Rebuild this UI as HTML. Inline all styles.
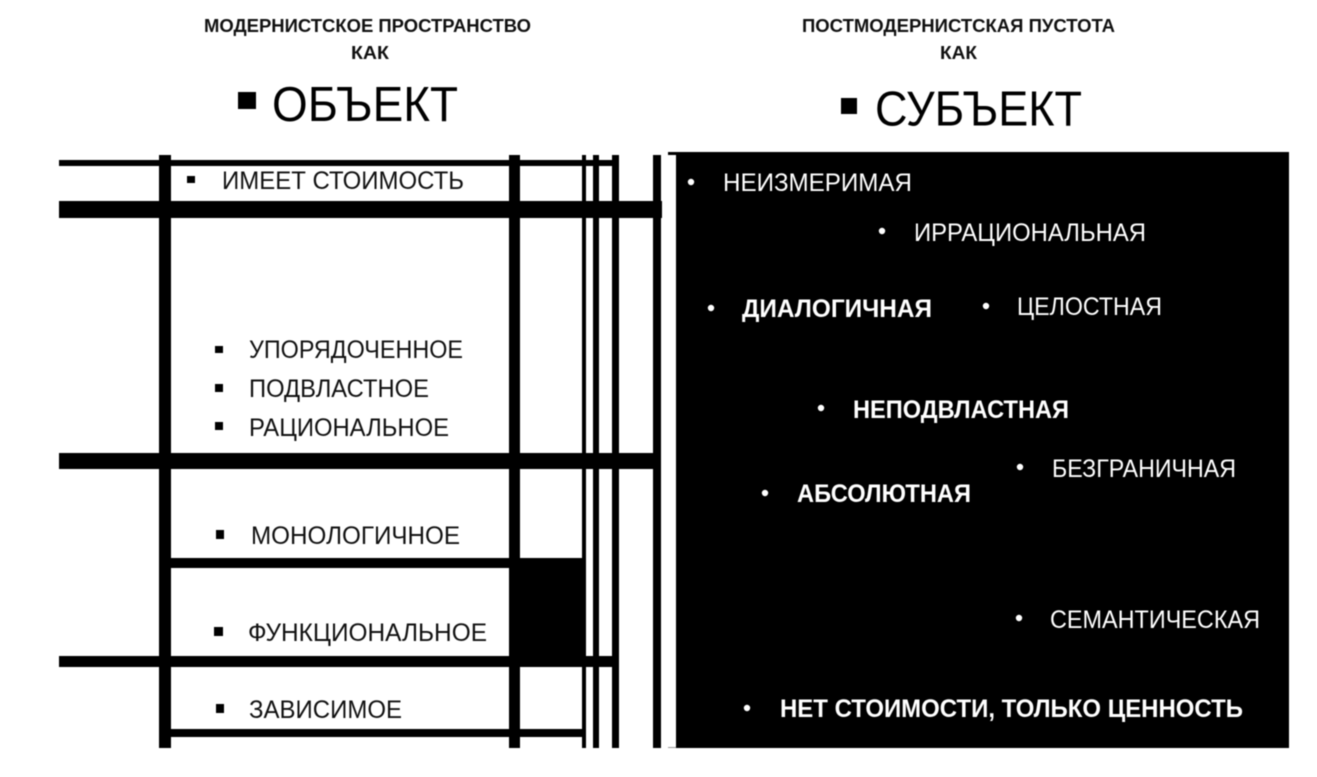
<!DOCTYPE html>
<html lang="ru">
<head>
<meta charset="utf-8">
<title>Объект и субъект</title>
<style>
html,body{margin:0;padding:0;background:#fff;width:1317px;height:777px;overflow:hidden}
svg{display:block;filter:blur(.45px)}
text{font-family:"Liberation Sans","DejaVu Sans",sans-serif;font-size:25px;fill:#111}
.b{font-weight:bold}
.h{font-weight:bold;font-size:18px}
.big{font-size:49px;fill:#000}
.w text{fill:#fff}
</style>
</head>
<body>
<svg width="1317" height="777" viewBox="0 0 1317 777" xmlns="http://www.w3.org/2000/svg">
<rect width="1317" height="777" fill="#fff"/>

<!-- headings -->
<text class="h" x="204" y="32" textLength="327" lengthAdjust="spacingAndGlyphs">МОДЕРНИСТСКОЕ ПРОСТРАНСТВО</text>
<text class="h" x="351" y="59" textLength="38" lengthAdjust="spacingAndGlyphs">КАК</text>
<rect x="238" y="92" width="18" height="17" fill="#000"/>
<text class="big" x="272" y="121" textLength="186" lengthAdjust="spacingAndGlyphs">ОБЪЕКТ</text>

<text class="h" x="802" y="32" textLength="313" lengthAdjust="spacingAndGlyphs">ПОСТМОДЕРНИСТСКАЯ ПУСТОТА</text>
<text class="h" x="940" y="59" textLength="37" lengthAdjust="spacingAndGlyphs">КАК</text>
<rect x="841" y="98" width="16" height="16" fill="#000"/>
<text class="big" x="875" y="125.5" textLength="207" lengthAdjust="spacingAndGlyphs">СУБЪЕКТ</text>

<!-- grid: verticals -->
<g fill="#000">
<rect x="159" y="155" width="12" height="593"/>
<rect x="509" y="155" width="11" height="593"/>
<rect x="582" y="155" width="4" height="593"/>
<rect x="593" y="155" width="6" height="593"/>
<rect x="612" y="155" width="7" height="593"/>
<rect x="653" y="155" width="8" height="593"/>
<!-- horizontals -->
<rect x="59" y="160" width="553" height="6"/>
<rect x="59" y="201" width="603" height="17"/>
<rect x="59" y="453" width="594" height="16"/>
<rect x="171" y="558" width="338" height="10"/>
<rect x="509" y="558" width="76" height="100"/>
<rect x="59" y="656" width="553" height="11"/>
<rect x="159" y="729" width="424" height="8"/>
<!-- right panel -->
<rect x="676" y="152" width="613" height="596"/>
<rect x="668" y="152" width="8" height="3"/>
</g>
<rect x="668" y="747" width="8" height="1" fill="#999"/>

<!-- left list -->
<g fill="#000">
<rect x="187" y="176" width="8" height="7"/>
<rect x="215" y="346" width="8" height="7"/>
<rect x="215" y="384" width="8" height="8"/>
<rect x="215" y="422" width="8" height="8"/>
<rect x="216" y="530" width="8" height="9"/>
<rect x="214" y="627" width="9" height="9"/>
<rect x="216" y="704" width="8" height="9"/>
</g>
<text x="222" y="189" textLength="242" lengthAdjust="spacingAndGlyphs">ИМЕЕТ СТОИМОСТЬ</text>
<text x="249" y="358" textLength="214" lengthAdjust="spacingAndGlyphs">УПОРЯДОЧЕННОЕ</text>
<text x="249" y="397" textLength="180" lengthAdjust="spacingAndGlyphs">ПОДВЛАСТНОЕ</text>
<text x="249" y="436" textLength="200" lengthAdjust="spacingAndGlyphs">РАЦИОНАЛЬНОЕ</text>
<text x="251" y="544" textLength="209" lengthAdjust="spacingAndGlyphs">МОНОЛОГИЧНОЕ</text>
<text x="248" y="641" textLength="239" lengthAdjust="spacingAndGlyphs">ФУНКЦИОНАЛЬНОЕ</text>
<text x="249" y="718" textLength="153" lengthAdjust="spacingAndGlyphs">ЗАВИСИМОЕ</text>

<!-- right list -->
<g fill="#fff">
<circle cx="691" cy="182" r="3.2"/>
<circle cx="882" cy="231" r="3.2"/>
<circle cx="711" cy="308" r="3.2"/>
<circle cx="986" cy="306" r="3.2"/>
<circle cx="821" cy="408" r="3.2"/>
<circle cx="1020" cy="467" r="3.2"/>
<circle cx="765" cy="493" r="3.2"/>
<circle cx="1019" cy="618" r="3.2"/>
<circle cx="747" cy="708" r="3.2"/>
</g>
<g class="w">
<text x="723" y="191" textLength="189" lengthAdjust="spacingAndGlyphs">НЕИЗМЕРИМАЯ</text>
<text x="914" y="241" textLength="232" lengthAdjust="spacingAndGlyphs">ИРРАЦИОНАЛЬНАЯ</text>
<text class="b" x="742" y="317" textLength="190" lengthAdjust="spacingAndGlyphs">ДИАЛОГИЧНАЯ</text>
<text x="1017" y="315" textLength="145" lengthAdjust="spacingAndGlyphs">ЦЕЛОСТНАЯ</text>
<text class="b" x="853" y="418" textLength="216" lengthAdjust="spacingAndGlyphs">НЕПОДВЛАСТНАЯ</text>
<text x="1052" y="477" textLength="184" lengthAdjust="spacingAndGlyphs">БЕЗГРАНИЧНАЯ</text>
<text class="b" x="797" y="502" textLength="174" lengthAdjust="spacingAndGlyphs">АБСОЛЮТНАЯ</text>
<text x="1050" y="628" textLength="210" lengthAdjust="spacingAndGlyphs">СЕМАНТИЧЕСКАЯ</text>
<text class="b" x="780" y="717" textLength="463" lengthAdjust="spacingAndGlyphs">НЕТ СТОИМОСТИ, ТОЛЬКО ЦЕННОСТЬ</text>
</g>
</svg>
</body>
</html>
